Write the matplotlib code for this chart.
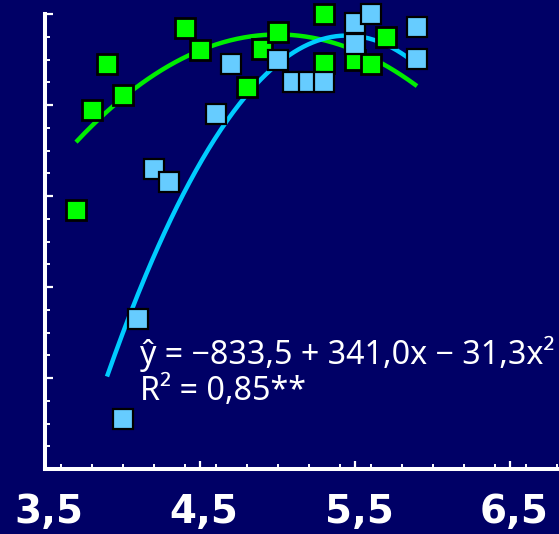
import numpy as np
import matplotlib
matplotlib.use("Agg")
import matplotlib.pyplot as plt
from matplotlib.ticker import MultipleLocator, FixedLocator
from matplotlib.transforms import ScaledTranslation

# colours
bg = "#000066"
green = "#00ff00"
lightblue = "#66ccff"
cyan = "#00ccff"

# data
green_x = [3.7, 3.8, 3.9, 4.0, 4.4, 4.5, 4.8, 4.9, 5.0, 5.3, 5.3, 5.5, 5.6, 5.7]
green_y = [56.9, 79.0, 89.0, 82.1, 97.0, 92.1, 84.0, 92.4, 96.0, 100.0, 89.2, 89.8, 89.1, 95.0]

blue_x = [4.0, 4.1, 4.2, 4.3, 4.6, 4.7, 5.0, 5.1, 5.2, 5.3, 5.5, 5.5, 5.6, 5.9, 5.9]
blue_y = [11.0, 33.0, 65.9, 63.1, 78.1, 89.1, 90.0, 85.0, 85.0, 85.0, 98.0, 93.4, 100.0, 97.1, 90.1]

# quadratic fits: a + b*x + c*x^2
blue_coef = [-833.5, 341.0, -31.3]
blue_range = [3.9, 5.9]
green_coef = [-254.5, 140.0, -14.0]
green_range = [3.7, 5.9]

xtick_pos = [3.5, 4.5, 5.5, 6.5]
xtick_labels = ["3,5", "4,5", "5,5", "6,5"]

eq_text = "ŷ = −833,5 + 341,0x − 31,3x²"
r2_text = "R² = 0,85**"


def quad(coef, rng):
    xs = np.linspace(rng[0], rng[1], 200)
    return xs, coef[0] + coef[1] * xs + coef[2] * xs ** 2


fig = plt.figure(figsize=(5.59, 5.34), dpi=100, facecolor=bg)
ax = fig.add_axes([45 / 559, 65 / 534, 514 / 559, 455 / 534])
ax.set_facecolor(bg)

# curves under the markers
gx, gy = quad(green_coef, green_range)
ax.plot(gx, gy, color="#00ee00", lw=3.2, zorder=2, solid_capstyle="butt")
bx, by = quad(blue_coef, blue_range)
ax.plot(bx, by, color=cyan, lw=3.2, zorder=2, solid_capstyle="butt")

ax.plot(green_x, green_y, ls="none", marker="s", ms=15, mfc=green,
        mec="black", mew=2.0, zorder=3, clip_on=False)
ax.plot(blue_x, blue_y, ls="none", marker="s", ms=15, mfc=lightblue,
        mec="black", mew=1.6, zorder=4, clip_on=False)

ax.set_xlim(3.5, 3.5 + 514 / 155)
ax.set_ylim(0, 100)

ax.xaxis.set_major_locator(FixedLocator(xtick_pos))
ax.set_xticklabels(xtick_labels)
ax.xaxis.set_minor_locator(MultipleLocator(0.2))
ax.yaxis.set_major_locator(MultipleLocator(20))
ax.yaxis.set_minor_locator(MultipleLocator(5))
ax.set_yticklabels([])

for side in ["top", "right"]:
    ax.spines[side].set_visible(False)
for side in ["left", "bottom"]:
    ax.spines[side].set_color("white")
    ax.spines[side].set_linewidth(2.9)

ax.tick_params(which="major", direction="in", length=5.5, width=1.6,
               color="white", pad=17)
ax.tick_params(which="minor", direction="in", length=3.5, width=1.4,
               color="white")
shift = ScaledTranslation(4 / 100, 0, fig.dpi_scale_trans)
for lab in ax.get_xticklabels():
    lab.set_fontfamily("DejaVu Sans")
    lab.set_fontweight("bold")
    lab.set_fontsize(28)
    lab.set_color("white")
    lab.set_transform(lab.get_transform() + shift)

ax.text(4.113, 23.1, eq_text, color="white", fontsize=23.2,
        family="Noto Sans", va="baseline", ha="left", zorder=5)
ax.text(4.113, 15.2, r2_text, color="white", fontsize=23.2,
        family="Noto Sans", va="baseline", ha="left", zorder=5)

fig.savefig("out.png", dpi=100, facecolor=bg)
